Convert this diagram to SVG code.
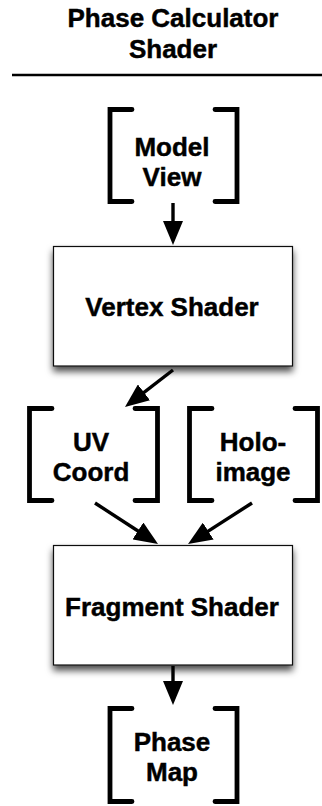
<svg xmlns="http://www.w3.org/2000/svg" width="322" height="806" viewBox="0 0 322 806">
  <style>
    text { font-family: "Liberation Sans", Arial, Helvetica, sans-serif; font-weight: bold; font-size: 26px; fill: #000; stroke: #000; stroke-width: 0.45; text-anchor: middle; }
    .bracket { fill: none; stroke: #000; stroke-width: 4.8; stroke-linecap: round; stroke-linejoin: miter; }
    .box { fill: #fff; stroke: #111; stroke-width: 1.2; filter: url(#shadow); }
    .edge { fill: none; stroke: #000; stroke-width: 3.4; marker-end: url(#arrow); }
  </style>
  <defs>
    <filter id="shadow" x="-20%" y="-20%" width="140%" height="160%">
      <feDropShadow dx="0" dy="5" stdDeviation="3.5" flood-color="#000" flood-opacity="0.7"/>
    </filter>
    <marker id="arrow" markerUnits="userSpaceOnUse" markerWidth="24" markerHeight="20" refX="13" refY="10" orient="auto">
      <path d="M0,0 L24,10 L0,20 z" fill="#000"/>
    </marker>
  </defs>

  <!-- heading -->
  <g id="title">
    <text x="173" y="27">Phase Calculator</text>
    <text x="173" y="58">Shader</text>
    <line x1="12" y1="75" x2="322" y2="75" stroke="#000" stroke-width="2.5"/>
  </g>

  <!-- connectors -->
  <g id="connectors">
    <line class="edge" x1="173" y1="203" x2="173" y2="234"/>
    <line class="edge" x1="173" y1="370" x2="133.7" y2="400.3"/>
    <line class="edge" x1="95" y1="503" x2="148.8" y2="538"/>
    <line class="edge" x1="252" y1="503" x2="197.3" y2="538.1"/>
    <line class="edge" x1="173" y1="666" x2="173" y2="694"/>
  </g>

  <g id="model-view">
    <path class="bracket" d="M132,109.5 H110 V201.5 H132"/>
    <path class="bracket" d="M215,109.5 H237 V201.5 H215"/>
    <text x="172" y="156">Model</text>
    <text x="172" y="186">View</text>
  </g>

  <g id="vertex-shader">
    <rect class="box" x="53.5" y="246.5" width="239" height="119.5"/>
    <text x="172" y="316">Vertex Shader</text>
  </g>

  <g id="uv-coord">
    <path class="bracket" d="M52,408.5 H29.5 V500.5 H52"/>
    <path class="bracket" d="M135,408.5 H157.5 V500.5 H135"/>
    <text x="91" y="451">UV</text>
    <text x="91" y="481">Coord</text>
  </g>

  <g id="holo-image">
    <path class="bracket" d="M212,408.5 H189.5 V500.5 H212"/>
    <path class="bracket" d="M295,408.5 H317.5 V500.5 H295"/>
    <text x="253" y="451">Holo-</text>
    <text x="253" y="481">image</text>
  </g>

  <g id="fragment-shader">
    <rect class="box" x="53.5" y="545.5" width="239" height="119.5"/>
    <text x="172" y="616">Fragment Shader</text>
  </g>

  <g id="phase-map">
    <path class="bracket" d="M132,708.5 H110 V801.5 H132"/>
    <path class="bracket" d="M215,708.5 H237 V801.5 H215"/>
    <text x="172" y="751">Phase</text>
    <text x="172" y="781">Map</text>
  </g>
</svg>
